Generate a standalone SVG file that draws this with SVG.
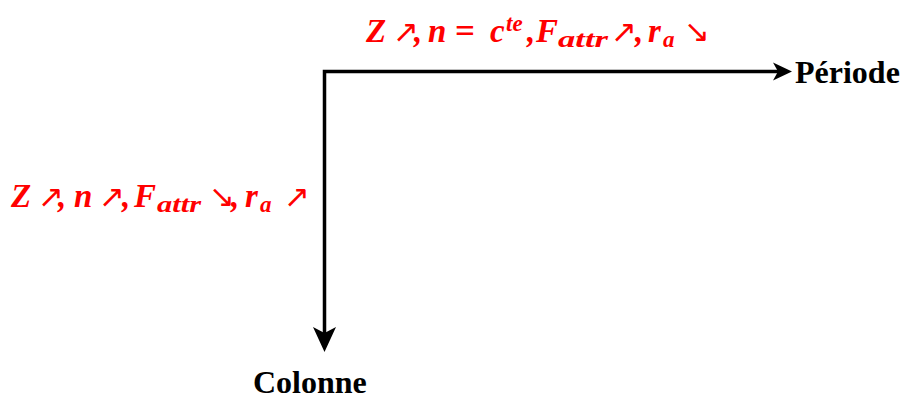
<svg xmlns="http://www.w3.org/2000/svg" width="901" height="401" viewBox="0 0 901 401">
<style>
.m{font-family:"Liberation Serif","Times New Roman",serif;font-weight:bold;font-style:italic;font-size:33px;fill:#ff0000}
.s{font-size:23px}
.ar{font-family:"DejaVu Sans",sans-serif;font-style:normal;font-weight:normal;font-size:31px;letter-spacing:-9px}
.eq{font-style:normal}
.lbl{font-family:"Liberation Serif","Times New Roman",serif;font-weight:bold;font-size:32px;fill:#000}
.ax{stroke:#000;stroke-width:3.5;fill:none}
</style>
<rect width="901" height="401" fill="#fff"/>
<g id="connectors">
<path class="ax" d="M324.5,345 V71.5 H782"/>
<path d="M792,71.5 L773,62.5 L778,71.5 L773,80.5 Z" fill="#000"/>
<path d="M324.5,352 L313,327 L324.5,333 L336,327 Z" fill="#000"/>
</g>
<g id="periode"><text class="lbl" x="795" y="83">Période</text></g>
<g id="colonne"><text class="lbl" x="253" y="393">Colonne</text></g>
<g id="top-label">
<text class="m" y="42"><tspan x="366">Z</tspan><tspan class="ar" x="393">↗</tspan><tspan x="414">,</tspan><tspan x="428">n</tspan><tspan class="eq" x="455" textLength="20" lengthAdjust="spacingAndGlyphs">=</tspan><tspan x="490">c</tspan><tspan class="s" x="506" y="31">te</tspan><tspan x="527" y="42">,</tspan><tspan x="536">F</tspan><tspan class="s" x="558" y="47" textLength="50" lengthAdjust="spacingAndGlyphs">attr</tspan><tspan class="ar" x="611" y="42">↗</tspan><tspan x="635">,</tspan><tspan x="648">r</tspan><tspan class="s" x="663" y="47">a</tspan><tspan class="ar" x="684" y="42">↘</tspan></text>
</g>
<g id="left-label">
<text class="m" y="207"><tspan x="11">Z</tspan><tspan class="ar" x="38">↗</tspan><tspan x="58">,</tspan><tspan x="74">n</tspan><tspan class="ar" x="99">↗</tspan><tspan x="122">,</tspan><tspan x="134">F</tspan><tspan class="s" x="157" y="212" textLength="44" lengthAdjust="spacingAndGlyphs">attr</tspan><tspan class="ar" x="209" y="207">↘</tspan><tspan x="231">,</tspan><tspan x="245">r</tspan><tspan class="s" x="260" y="212">a</tspan><tspan class="ar" x="284" y="207">↗</tspan></text>
</g>
</svg>
